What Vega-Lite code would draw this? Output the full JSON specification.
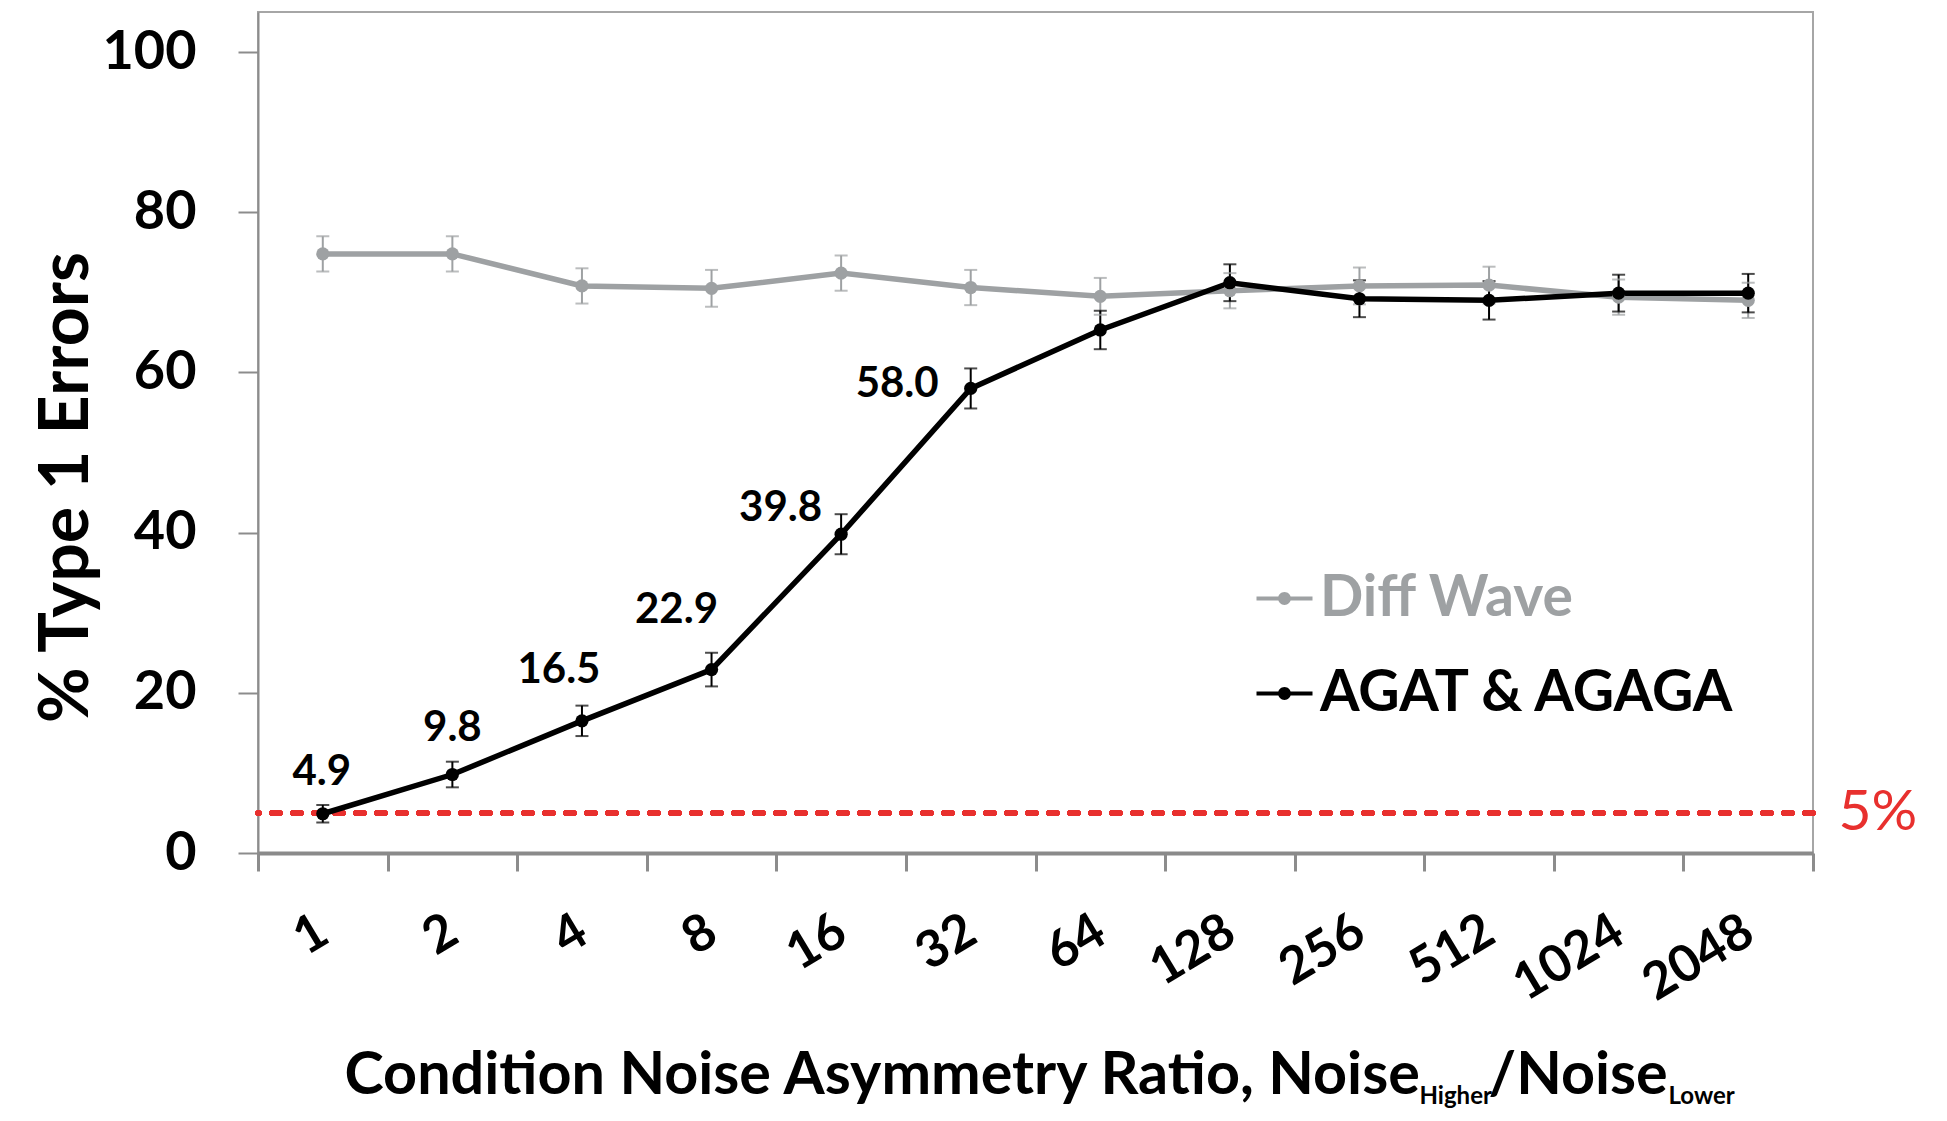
{
  "$schema": "https://vega.github.io/schema/vega-lite/v6.json",
  "width": 1555,
  "height": 841,
  "autosize": "none",
  "padding": {"left": 258, "top": 12, "right": 134, "bottom": 268},
  "config": {
    "font": "Lato",
    "view": {"stroke": "#a6a6a6", "strokeWidth": 2}
  },
  "data": {
    "values": [
      {"ratio": "1", "series": "Diff Wave", "value": 74.8, "lo": 72.6, "hi": 77.0},
      {"ratio": "2", "series": "Diff Wave", "value": 74.8, "lo": 72.6, "hi": 77.0},
      {"ratio": "4", "series": "Diff Wave", "value": 70.8, "lo": 68.6, "hi": 73.0},
      {"ratio": "8", "series": "Diff Wave", "value": 70.5, "lo": 68.2, "hi": 72.8},
      {"ratio": "16", "series": "Diff Wave", "value": 72.4, "lo": 70.2, "hi": 74.6},
      {"ratio": "32", "series": "Diff Wave", "value": 70.6, "lo": 68.4, "hi": 72.8},
      {"ratio": "64", "series": "Diff Wave", "value": 69.5, "lo": 67.2, "hi": 71.8},
      {"ratio": "128", "series": "Diff Wave", "value": 70.2, "lo": 68.0, "hi": 72.4},
      {"ratio": "256", "series": "Diff Wave", "value": 70.8, "lo": 68.5, "hi": 73.1},
      {"ratio": "512", "series": "Diff Wave", "value": 70.9, "lo": 68.6, "hi": 73.2},
      {"ratio": "1024", "series": "Diff Wave", "value": 69.4, "lo": 67.2, "hi": 71.6},
      {"ratio": "2048", "series": "Diff Wave", "value": 69.0, "lo": 66.8, "hi": 71.2},
      {"ratio": "1", "series": "AGAT & AGAGA", "value": 4.9, "lo": 3.8, "hi": 6.0},
      {"ratio": "2", "series": "AGAT & AGAGA", "value": 9.8, "lo": 8.2, "hi": 11.4},
      {"ratio": "4", "series": "AGAT & AGAGA", "value": 16.5, "lo": 14.6, "hi": 18.4},
      {"ratio": "8", "series": "AGAT & AGAGA", "value": 22.9, "lo": 20.8, "hi": 25.0},
      {"ratio": "16", "series": "AGAT & AGAGA", "value": 39.8, "lo": 37.3, "hi": 42.3},
      {"ratio": "32", "series": "AGAT & AGAGA", "value": 58.0, "lo": 55.5, "hi": 60.5},
      {"ratio": "64", "series": "AGAT & AGAGA", "value": 65.3, "lo": 62.9, "hi": 67.7},
      {"ratio": "128", "series": "AGAT & AGAGA", "value": 71.2, "lo": 68.9, "hi": 73.5},
      {"ratio": "256", "series": "AGAT & AGAGA", "value": 69.2, "lo": 66.9, "hi": 71.5},
      {"ratio": "512", "series": "AGAT & AGAGA", "value": 69.0, "lo": 66.6, "hi": 71.4},
      {"ratio": "1024", "series": "AGAT & AGAGA", "value": 69.9, "lo": 67.6, "hi": 72.2},
      {"ratio": "2048", "series": "AGAT & AGAGA", "value": 69.9, "lo": 67.5, "hi": 72.3}
    ]
  },
  "resolve": {"axis": {"x": "independent", "y": "independent"}},
  "layer": [
    {
      "mark": {"type": "rule", "color": "#e8302e", "strokeWidth": 5, "strokeDash": [8.5, 12.5], "strokeCap": "round"},
      "encoding": {
        "y": {
          "datum": 5,
          "type": "quantitative",
          "scale": {"domain": [0, 105], "nice": false},
          "axis": {
            "orient": "right",
            "values": [5],
            "labelExpr": "'5%'",
            "domain": false,
            "ticks": false,
            "grid": false,
            "title": null,
            "labelColor": "#e8302e",
            "labelFontSize": 57,
            "labelFontWeight": "normal",
            "labelPadding": 25,
            "labelBaseline": "middle"
          }
        }
      }
    },
    {
      "encoding": {
        "x": {
          "field": "ratio",
          "type": "ordinal",
          "bandPosition": 0.5,
          "scale": {
            "type": "band",
            "domain": ["1", "2", "4", "8", "16", "32", "64", "128", "256", "512", "1024", "2048"],
            "paddingInner": 0,
            "paddingOuter": 0
          },
          "axis": {
            "orient": "bottom",
            "tickBand": "extent",
            "labelAngle": -31,
            "labelFontSize": 51,
            "labelFontWeight": "bold",
            "labelColor": "#000000",
            "labelPadding": 35,
            "labelOffset": -12,
            "tickColor": "#8c8c8c",
            "tickWidth": 3,
            "tickSize": 18,
            "domainColor": "#8a8a8a",
            "domainWidth": 4,
            "grid": false,
            "title": "Condition Noise Asymmetry Ratio, Noise",
            "titleFontSize": 59.3,
            "titleFontWeight": "bold",
            "titleColor": "#000000",
            "titleX": 86,
            "titleY": 240,
            "titleAlign": "left",
            "titleBaseline": "alphabetic"
          }
        },
        "y": {
          "field": "value",
          "type": "quantitative",
          "scale": {"domain": [0, 105], "nice": false},
          "axis": {
            "orient": "left",
            "values": [0, 20, 40, 60, 80, 100],
            "grid": false,
            "labelFontSize": 54,
            "labelFontWeight": "bold",
            "labelColor": "#000000",
            "labelPadding": 42,
            "tickSize": 20,
            "tickColor": "#8c8c8c",
            "tickWidth": 2,
            "domainColor": "#8c8c8c",
            "domainWidth": 2,
            "title": "% Type 1 Errors",
            "titleFontSize": 68,
            "titleFontWeight": "bold",
            "titleColor": "#000000",
            "titleAngle": 270,
            "titleX": -171,
            "titleY": 475,
            "titleAlign": "center",
            "titleBaseline": "alphabetic"
          }
        },
        "color": {
          "field": "series",
          "type": "nominal",
          "scale": {"domain": ["Diff Wave", "AGAT & AGAGA"], "range": ["#9ea1a3", "#000000"]},
          "legend": {
            "orient": "none",
            "legendX": 998,
            "legendY": 558,
            "title": null,
            "padding": 0,
            "symbolType": "M-1,-0.075L1,-0.075L1,0.075L-1,0.075Z M0.23,0A0.23,0.23 0 1,1 -0.23,0A0.23,0.23 0 1,1 0.23,0Z",
            "symbolSize": 3136,
            "symbolStrokeWidth": 0,
            "labelFontSize": 57,
            "labelFontWeight": "bold",
            "labelOffset": 7,
            "labelBaseline": "middle",
            "rowPadding": 37,
            "labelLimit": 800,
            "encode": {
              "labels": {"update": {"fill": {"signal": "datum.value === 'Diff Wave' ? '#9ea1a3' : '#000000'"}}},
              "symbols": {"update": {"fill": {"signal": "datum.value === 'Diff Wave' ? '#9ea1a3' : '#000000'"}, "opacity": {"value": 1}, "strokeWidth": {"value": 0}}}
            }
          }
        }
      },
      "layer": [
        {
          "mark": {"type": "rule", "strokeWidth": 2},
          "encoding": {
            "y": {"field": "lo", "type": "quantitative"},
            "y2": {"field": "hi"}
          }
        },
        {
          "mark": {"type": "tick", "size": 13, "thickness": 2},
          "encoding": {"y": {"field": "lo", "type": "quantitative"}}
        },
        {
          "mark": {"type": "tick", "size": 13, "thickness": 2},
          "encoding": {"y": {"field": "hi", "type": "quantitative"}}
        },
        {
          "mark": {"type": "line", "strokeWidth": 5.5},
          "encoding": {"detail": {"field": "series"}}
        },
        {
          "mark": {"type": "point", "filled": true, "size": 175, "opacity": 1}
        },
        {
          "transform": [{"filter": "datum.series === 'AGAT & AGAGA' && datum.ratio === '1'"}],
          "mark": {"type": "text", "fontSize": 42, "fontWeight": "bold", "align": "center", "baseline": "alphabetic", "dx": -1, "dy": -29},
          "encoding": {"text": {"field": "value", "type": "quantitative", "format": ".1f"}, "color": {"value": "#000000"}}
        },
        {
          "transform": [{"filter": "datum.series === 'AGAT & AGAGA' && datum.ratio === '2'"}],
          "mark": {"type": "text", "fontSize": 42, "fontWeight": "bold", "align": "center", "baseline": "alphabetic", "dx": 0, "dy": -34},
          "encoding": {"text": {"field": "value", "type": "quantitative", "format": ".1f"}, "color": {"value": "#000000"}}
        },
        {
          "transform": [{"filter": "datum.series === 'AGAT & AGAGA' && datum.ratio === '4'"}],
          "mark": {"type": "text", "fontSize": 42, "fontWeight": "bold", "align": "center", "baseline": "alphabetic", "dx": -23, "dy": -38},
          "encoding": {"text": {"field": "value", "type": "quantitative", "format": ".1f"}, "color": {"value": "#000000"}}
        },
        {
          "transform": [{"filter": "datum.series === 'AGAT & AGAGA' && datum.ratio === '8'"}],
          "mark": {"type": "text", "fontSize": 42, "fontWeight": "bold", "align": "center", "baseline": "alphabetic", "dx": -35, "dy": -47},
          "encoding": {"text": {"field": "value", "type": "quantitative", "format": ".1f"}, "color": {"value": "#000000"}}
        },
        {
          "transform": [{"filter": "datum.series === 'AGAT & AGAGA' && datum.ratio === '16'"}],
          "mark": {"type": "text", "fontSize": 42, "fontWeight": "bold", "align": "right", "baseline": "alphabetic", "dx": -19, "dy": -13},
          "encoding": {"text": {"field": "value", "type": "quantitative", "format": ".1f"}, "color": {"value": "#000000"}}
        },
        {
          "transform": [{"filter": "datum.series === 'AGAT & AGAGA' && datum.ratio === '32'"}],
          "mark": {"type": "text", "fontSize": 42, "fontWeight": "bold", "align": "right", "baseline": "alphabetic", "dx": -32, "dy": 9},
          "encoding": {"text": {"field": "value", "type": "quantitative", "format": ".1f"}, "color": {"value": "#000000"}}
        }
      ]
    },
    {
      "mark": {"type": "point", "opacity": 0},
      "encoding": {
        "x": {
          "field": "ratio",
          "type": "ordinal",
          "axis": {"orient": "bottom", "labels": false, "ticks": false, "domain": false, "grid": false,
            "title": "Higher", "titleFontSize": 24, "titleFontWeight": "bold", "titleColor": "#000000",
            "titleX": 1161, "titleY": 250, "titleAlign": "left", "titleBaseline": "alphabetic"}
        }
      }
    },
    {
      "mark": {"type": "point", "opacity": 0},
      "encoding": {
        "x": {
          "field": "ratio",
          "type": "ordinal",
          "axis": {"orient": "bottom", "labels": false, "ticks": false, "domain": false, "grid": false,
            "title": "/Noise", "titleFontSize": 59.3, "titleFontWeight": "bold", "titleColor": "#000000",
            "titleX": 1230, "titleY": 240, "titleAlign": "left", "titleBaseline": "alphabetic"}
        }
      }
    },
    {
      "mark": {"type": "point", "opacity": 0},
      "encoding": {
        "x": {
          "field": "ratio",
          "type": "ordinal",
          "axis": {"orient": "bottom", "labels": false, "ticks": false, "domain": false, "grid": false,
            "title": "Lower", "titleFontSize": 24, "titleFontWeight": "bold", "titleColor": "#000000",
            "titleX": 1410, "titleY": 250, "titleAlign": "left", "titleBaseline": "alphabetic"}
        }
      }
    }
  ]
}
